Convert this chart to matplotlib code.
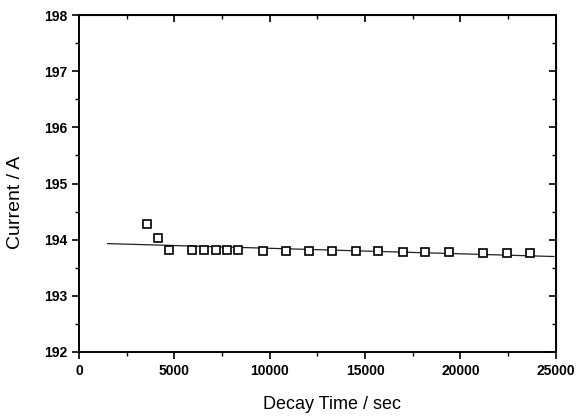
import matplotlib
matplotlib.use("Agg")
import matplotlib.pyplot as plt
from matplotlib.ticker import MultipleLocator

# decay time (s) and measured current (A)
decay_time = [3550, 4150, 4720, 5940, 6550, 7180, 7770, 8350, 9630,
              10830, 12070, 13240, 14520, 15690, 16970, 18130, 19410,
              21190, 22450, 23670]
current = [194.28, 194.03, 193.81, 193.81, 193.81, 193.81, 193.81, 193.81,
           193.80, 193.80, 193.80, 193.79, 193.79, 193.79, 193.78, 193.78,
           193.78, 193.77, 193.77, 193.77]

# linear fit line end points
fit_time = [1500, 24900]
fit_current = [193.93, 193.70]

plt.rcParams["font.family"] = ["Liberation Sans", "DejaVu Sans"]

fig = plt.figure(figsize=(5.82, 4.2), dpi=100)
ax = fig.add_axes([0.1357, 0.162, 0.8193, 0.802])

ax.plot(fit_time, fit_current, color="#222222", linewidth=0.9, zorder=2)
ax.plot(decay_time, current, linestyle="none", marker="s", markersize=5.2,
        markerfacecolor="white", markeredgecolor="black",
        markeredgewidth=1.2, zorder=3)

ax.set_xlim(0, 25000)
ax.set_ylim(192, 198)
ax.xaxis.set_major_locator(MultipleLocator(5000))
ax.xaxis.set_minor_locator(MultipleLocator(2500))
ax.yaxis.set_major_locator(MultipleLocator(1))
ax.yaxis.set_minor_locator(MultipleLocator(0.5))

ax.tick_params(which="major", direction="out", length=5, width=1.2,
               labelsize=10)
ax.tick_params(which="minor", direction="out", length=3, width=1.0)
for lab in ax.get_xticklabels() + ax.get_yticklabels():
    lab.set_fontweight("bold")

for sp in ax.spines.values():
    sp.set_linewidth(1.4)

# inward ticks on top and right
top = ax.secondary_xaxis("top")
top.xaxis.set_major_locator(MultipleLocator(5000))
top.xaxis.set_minor_locator(MultipleLocator(2500))
top.tick_params(which="major", direction="in", length=5, width=1.2,
                labeltop=False)
top.tick_params(which="minor", direction="in", length=3, width=1.0)
right = ax.secondary_yaxis("right")
right.yaxis.set_major_locator(MultipleLocator(1))
right.yaxis.set_minor_locator(MultipleLocator(0.5))
right.tick_params(which="major", direction="in", length=5, width=1.2,
                  labelright=False)
right.tick_params(which="minor", direction="in", length=3, width=1.0)

ax.set_xlabel("Decay Time / sec", fontsize=13)
ax.set_ylabel("Current / A", fontsize=14)
ax.xaxis.set_label_coords(0.531, -0.13)
ax.yaxis.set_label_coords(-0.115, 0.445)

fig.savefig("out.png", dpi=100, facecolor="white")
